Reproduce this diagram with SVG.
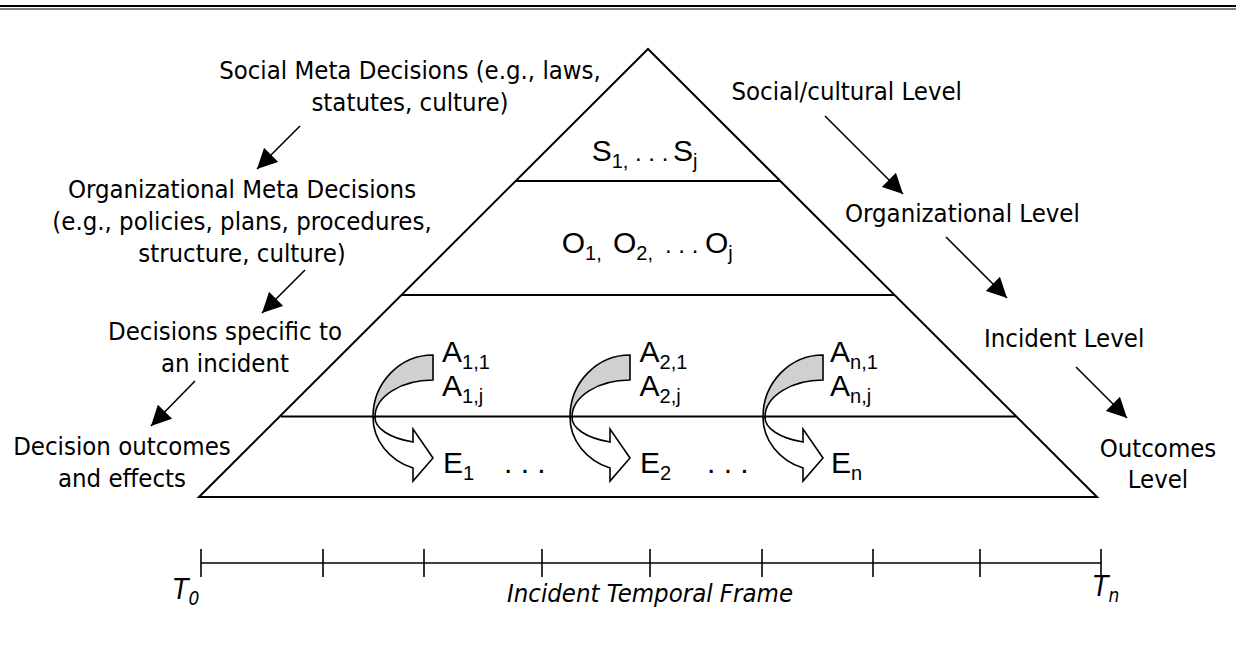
<svg xmlns="http://www.w3.org/2000/svg" xmlns:xlink="http://www.w3.org/1999/xlink" width="1236" height="655" viewBox="0 0 1236 655">
<style>
.lbl{font-family:"DejaVu Sans Condensed","DejaVu Sans",sans-serif;font-size:25.5px;fill:#000}
.mid{text-anchor:middle}
.in{font-family:"Liberation Sans",Arial,sans-serif;font-size:30px;fill:#000}
.sub{font-size:20px}
.dots{font-size:24px}
.edge{stroke:#000;stroke-width:2;fill:none}
.arr{stroke:#000;stroke-width:1.6;fill:none;marker-end:url(#ah)}
.band{fill:#d0d0d0;stroke:#000;stroke-width:1.6}
.body{fill:#fff;stroke:#000;stroke-width:1.6}
.tl{stroke:#000;stroke-width:1.6}
.it{font-family:"DejaVu Sans Condensed","DejaVu Sans",sans-serif;font-style:italic;fill:#000}
</style>
<defs>
<marker id="ah" markerUnits="userSpaceOnUse" markerWidth="20" markerHeight="20" refX="20" refY="10" orient="auto">
<path d="M0,0 L20,10 L0,20 Z" fill="#000"/>
</marker>
<g id="curv">
<path class="band" d="M0,355 A60,62 0 0 0 -60,417 L-58,417 A58,37 0 0 1 0,380 Z"/>
<path class="body" d="M-60,417 A60,54 0 0 0 -20,468 L-20,481 L0,458 L-20,429 L-20,442 A58,26 0 0 1 -58,417 Z"/>
</g>
</defs>
<rect width="1236" height="655" fill="#fff"/>
<g id="rule">
<line x1="0" y1="6" x2="1236" y2="6" stroke="#000" stroke-width="2"/>
<line x1="0" y1="9" x2="1236" y2="9" stroke="#000" stroke-width="1"/>
</g>
<g id="pyramid">
<path class="edge" d="M199,497 L648,49 L1097,497 Z"/>
<line class="edge" x1="516" y1="181" x2="780" y2="181"/>
<line class="edge" x1="402" y1="295" x2="894" y2="295"/>
<line class="edge" x1="281" y1="416.5" x2="1016" y2="416.5"/>
</g>
<g id="level-social">
<text class="in" x="591.7" y="161">S<tspan class="sub" dy="7">1,</tspan><tspan class="dots" x="635" dy="-7">. . .</tspan><tspan x="673">S</tspan><tspan class="sub" dy="7">j</tspan></text>
</g>
<g id="level-org">
<text class="in" x="561.7" y="253">O<tspan class="sub" dy="7">1,</tspan><tspan x="613" dy="-7">O</tspan><tspan class="sub" dy="7">2,</tspan><tspan class="dots" x="665" dy="-7">. . .</tspan><tspan x="705">O</tspan><tspan class="sub" dy="7">j</tspan></text>
</g>
<g id="incident-1">
<use xlink:href="#curv" href="#curv" transform="translate(433,0)"/>
<text class="in" x="442" y="362">A<tspan class="sub" dy="7">1,1</tspan></text>
<text class="in" x="442" y="396">A<tspan class="sub" dy="7">1,j</tspan></text>
<text class="in" x="443" y="473">E<tspan class="sub" dy="7">1</tspan></text>
<text class="in" x="504" y="473">. . .</text>
</g>
<g id="incident-2">
<use xlink:href="#curv" href="#curv" transform="translate(630,0)"/>
<text class="in" x="639.5" y="362">A<tspan class="sub" dy="7">2,1</tspan></text>
<text class="in" x="639.5" y="396">A<tspan class="sub" dy="7">2,j</tspan></text>
<text class="in" x="640" y="473">E<tspan class="sub" dy="7">2</tspan></text>
<text class="in" x="707" y="473">. . .</text>
</g>
<g id="incident-n">
<use xlink:href="#curv" href="#curv" transform="translate(823,0)"/>
<text class="in" x="830" y="362">A<tspan class="sub" dy="7">n,1</tspan></text>
<text class="in" x="830" y="396">A<tspan class="sub" dy="7">n,j</tspan></text>
<text class="in" x="831" y="473">E<tspan class="sub" dy="7">n</tspan></text>
</g>
<g id="label-social-meta">
<text class="lbl mid" x="410" y="79">Social Meta Decisions (e.g., laws,</text>
<text class="lbl mid" x="410" y="111">statutes, culture)</text>
</g>
<g id="label-org-meta">
<text class="lbl mid" x="242" y="198">Organizational Meta Decisions</text>
<text class="lbl mid" x="242" y="230">(e.g., policies, plans, procedures,</text>
<text class="lbl mid" x="242" y="262">structure, culture)</text>
</g>
<g id="label-decisions">
<text class="lbl mid" x="225" y="340">Decisions specific to</text>
<text class="lbl mid" x="225" y="372">an incident</text>
</g>
<g id="label-outcomes">
<text class="lbl mid" x="122" y="455">Decision outcomes</text>
<text class="lbl mid" x="122" y="487">and effects</text>
</g>
<g id="level-social-label"><text class="lbl" x="962" y="100" text-anchor="end">Social/cultural Level</text></g>
<g id="level-org-label"><text class="lbl" x="845" y="222">Organizational Level</text></g>
<g id="level-incident-label"><text class="lbl" x="984" y="347">Incident Level</text></g>
<g id="level-outcomes-label">
<text class="lbl mid" x="1158" y="457">Outcomes</text>
<text class="lbl mid" x="1158" y="488">Level</text>
</g>
<g id="connectors">
<line class="arr" x1="300" y1="126" x2="257" y2="169"/>
<line class="arr" x1="305" y1="270" x2="262" y2="313"/>
<line class="arr" x1="195" y1="381" x2="151" y2="426"/>
<line class="arr" x1="825" y1="116" x2="903" y2="194"/>
<line class="arr" x1="946" y1="237" x2="1007" y2="298"/>
<line class="arr" x1="1076" y1="367" x2="1127" y2="418"/>
</g>
<g id="timeline">
<line class="tl" x1="201" y1="563" x2="1101" y2="563"/>
<line class="tl" x1="201" y1="549" x2="201" y2="577"/>
<line class="tl" x1="323" y1="549" x2="323" y2="577"/>
<line class="tl" x1="424" y1="549" x2="424" y2="577"/>
<line class="tl" x1="542" y1="549" x2="542" y2="577"/>
<line class="tl" x1="650" y1="549" x2="650" y2="577"/>
<line class="tl" x1="762" y1="549" x2="762" y2="577"/>
<line class="tl" x1="873" y1="549" x2="873" y2="577"/>
<line class="tl" x1="980" y1="549" x2="980" y2="577"/>
<line class="tl" x1="1101" y1="549" x2="1101" y2="577"/>
<text class="it" x="173" y="599" font-size="28">T<tspan font-size="19" dy="6">0</tspan></text>
<text class="it" x="1093" y="596" font-size="28">T<tspan font-size="19" dy="6">n</tspan></text>
<text class="it mid" x="650" y="602" font-size="25.5">Incident Temporal Frame</text>
</g>
</svg>
